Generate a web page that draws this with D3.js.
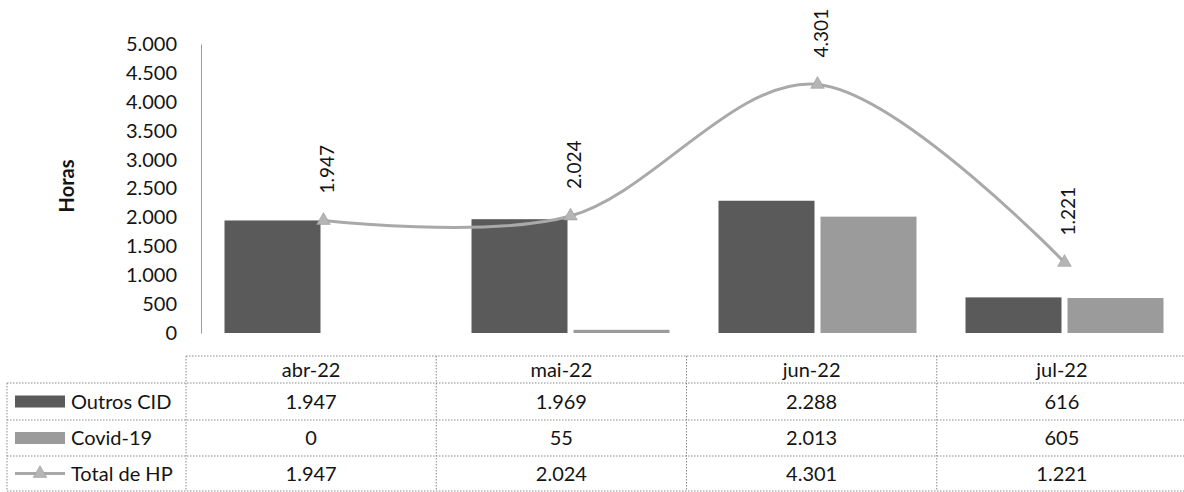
<!DOCTYPE html>
<html>
<head>
<meta charset="utf-8">
<script src="https://cdn.jsdelivr.net/npm/d3@7"></script>
<style>
  html, body { margin: 0; padding: 0; background: #fff; }
  svg { display: block; }
  text { font-family: Lato, "Open Sans", sans-serif; fill: #141414; }
</style>
</head>
<body>
<svg id="chart" width="1184" height="492"></svg>
<script>
// Monthly hours by type
const months = ["abr-22", "mai-22", "jun-22", "jul-22"];
const outrosCID = [1947, 1969, 2288, 616];
const covid19 = [0, 55, 2013, 605];
const totalHP = [1947, 2024, 4301, 1221];
const seriesNames = ["Outros CID", "Covid-19", "Total de HP"];
const yTicks = [0, 500, 1000, 1500, 2000, 2500, 3000, 3500, 4000, 4500, 5000];

const ptBR = d3.formatLocale({ decimal: ",", thousands: ".", grouping: [3], currency: ["", ""] });
const fmt = ptBR.format(",d");

const svg = d3.select("#chart");
const W = 1184;

const fills = ["#5a5a5a", "#9b9b9b"];
const lineColor = "#a9a9a9";
const markerColor = "#b5b5b5";

// Plot scales
const y = d3.scaleLinear().domain([0, 5000]).range([333, 44]);
const x = d3.scaleBand().domain(months).range([200, 1188]).paddingInner(0).paddingOuter(0);
const barW = 96, barGap = 6;

// Y axis
const yAxis = svg.append("g").attr("transform", "translate(201,0)")
  .call(d3.axisLeft(y).tickValues(yTicks).tickFormat(fmt).tickSize(0).tickPadding(24));
yAxis.select(".domain").attr("stroke", "#9a9a9a").attr("stroke-width", 1);
yAxis.selectAll(".tick text").attr("font-size", 20).attr("fill", "#141414")
  .style("font-family", "Lato, 'Open Sans', sans-serif");

svg.append("text")
  .attr("transform", "translate(74,186) rotate(-90)")
  .attr("text-anchor", "middle")
  .attr("font-size", 20).attr("font-weight", "bold")
  .text("Horas");

// Bars
const barSeries = [outrosCID, covid19];
barSeries.forEach((vals, si) => {
  svg.append("g").selectAll("rect").data(vals).join("rect")
    .attr("x", (d, i) => {
      const c = x(months[i]) + x.bandwidth() / 2;
      return si === 0 ? c - barGap / 2 - barW : c + barGap / 2;
    })
    .attr("y", d => y(d))
    .attr("width", barW)
    .attr("height", d => y(0) - y(d))
    .attr("fill", fills[si]);
});

// Smoothed total line
const pts = totalHP.map((v, i) => [x(months[i]) + x.bandwidth() / 2, y(v)]);
svg.append("path")
  .attr("d", d3.line().curve(d3.curveCardinal.tension(0))(pts))
  .attr("fill", "none").attr("stroke", lineColor).attr("stroke-width", 3);

const tri = d3.symbol().type(d3.symbolTriangle).size(80);
svg.append("g").selectAll("path").data(pts).join("path")
  .attr("transform", d => `translate(${d[0]},${d[1]})`)
  .attr("d", tri).attr("fill", markerColor).attr("stroke", "#9c9c9c").attr("stroke-width", 0.6);

// Value labels for the total line
svg.append("g").selectAll("text").data(totalHP).join("text")
  .attr("transform", (d, i) => `translate(${pts[i][0] + 10},${pts[i][1] - 27}) rotate(-90)`)
  .attr("font-size", 19)
  .text(d => fmt(d));

// Data table
const tx = d3.scaleBand().domain(months).range([186, 1187]);
const rowTop = [356, 383, 420, 456];
const rowBot = [383, 420, 456, 491];
const tableLeft = 7;
const grid = svg.append("g").attr("stroke", "#8a8a8a").attr("stroke-width", 1)
  .attr("stroke-dasharray", "1.5,1.5").attr("fill", "none");

// horizontal rules
grid.append("line").attr("x1", tx.range()[0]).attr("x2", W).attr("y1", rowTop[0]).attr("y2", rowTop[0]);
[rowTop[1], rowTop[2], rowTop[3], rowBot[3]].forEach(yy => {
  grid.append("line").attr("x1", tableLeft).attr("x2", W).attr("y1", yy).attr("y2", yy);
});
// vertical rules
grid.append("line").attr("x1", tableLeft).attr("x2", tableLeft).attr("y1", rowTop[1]).attr("y2", rowBot[3]);
months.forEach(m => {
  grid.append("line").attr("x1", tx(m)).attr("x2", tx(m)).attr("y1", rowTop[0]).attr("y2", rowBot[3]);
});
grid.append("line").attr("x1", tx.range()[1]).attr("x2", tx.range()[1]).attr("y1", rowTop[0]).attr("y2", rowBot[3]);

const rowMid = i => (rowTop[i] + rowBot[i]) / 2;

// header row
svg.append("g").selectAll("text").data(months).join("text")
  .attr("x", d => tx(d) + tx.bandwidth() / 2)
  .attr("y", rowMid(0))
  .attr("dy", "0.35em")
  .attr("text-anchor", "middle").attr("font-size", 20)
  .text(d => d);

// value rows
[outrosCID, covid19, totalHP].forEach((vals, r) => {
  svg.append("g").selectAll("text").data(vals).join("text")
    .attr("x", (d, i) => tx(months[i]) + tx.bandwidth() / 2)
    .attr("y", rowMid(r + 1))
    .attr("dy", "0.35em")
    .attr("text-anchor", "middle").attr("font-size", 20)
    .text(d => fmt(d));
});

// legend keys inside the table
seriesNames.forEach((name, r) => {
  const cy = rowMid(r + 1);
  if (r < 2) {
    svg.append("rect").attr("x", 15).attr("y", cy - 6).attr("width", 50).attr("height", 12)
      .attr("fill", fills[r]);
  } else {
    svg.append("line").attr("x1", 15).attr("x2", 65).attr("y1", cy).attr("y2", cy)
      .attr("stroke", lineColor).attr("stroke-width", 3);
    svg.append("path").attr("transform", `translate(40,${cy})`).attr("d", tri)
      .attr("fill", markerColor).attr("stroke", "#9c9c9c").attr("stroke-width", 0.6);
  }
  svg.append("text").attr("x", 71).attr("y", cy).attr("dy", "0.35em")
    .attr("font-size", 20).text(name);
});
</script>
</body>
</html>
